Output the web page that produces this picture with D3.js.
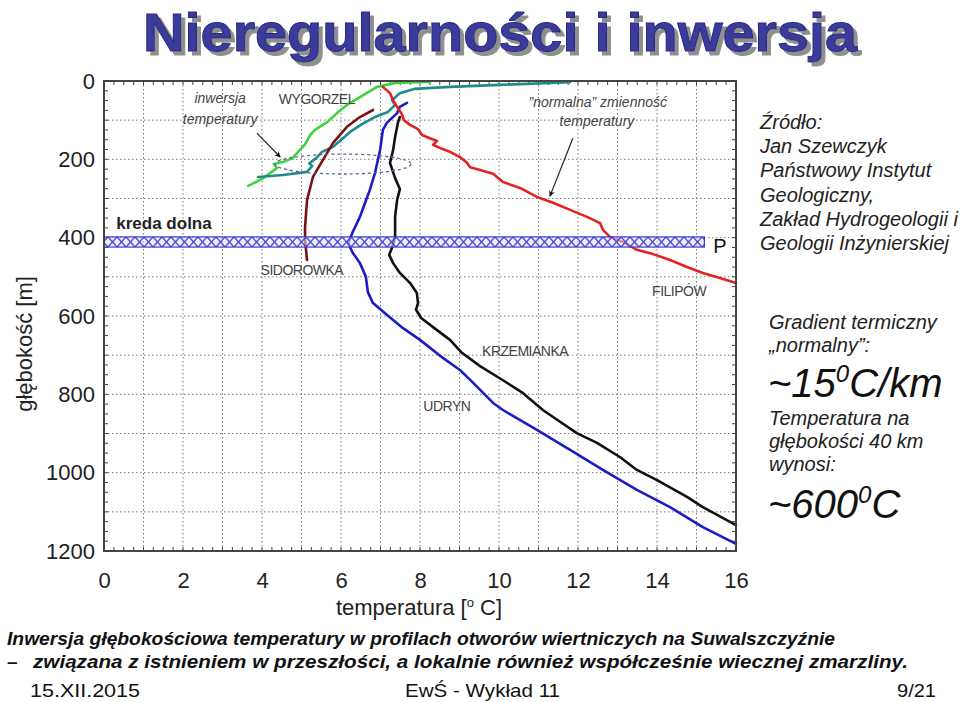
<!DOCTYPE html>
<html><head><meta charset="utf-8">
<script src="https://cdn.jsdelivr.net/npm/d3@7"></script>
<style>
html,body{margin:0;padding:0;background:#fff;}
svg{display:block;}
text{font-family:"Liberation Sans",Arial,sans-serif;}
</style></head>
<body>
<svg id="chart" width="960" height="702"></svg>
<script>
// ---- data (temperature [°C], depth [m]) ----
const xTicks = [0, 2, 4, 6, 8, 10, 12, 14, 16];
const yTicks = [0, 200, 400, 600, 800, 1000, 1200];

const wygorzel = [[3.65,268],[4.03,248],[4.38,222],[4.30,212],[4.53,207],[4.78,197],[4.85,188],[5.01,171],[5.10,160],[5.22,138],[5.34,125],[5.65,105],[5.90,82],[6.15,61],[6.48,41],[6.91,15],[7.37,5],[8.25,2]];
const wygorzelB = [[3.90,245],[4.53,240],[5.14,232],[5.27,217],[5.20,210],[5.37,197],[5.52,181],[5.80,168],[5.97,153],[6.23,130],[6.53,110],[6.86,92],[7.19,79],[7.37,61],[7.29,49],[7.49,31],[7.87,20],[8.76,15],[10.03,10],[11.80,3]];
const sidorowka = [[5.14,457],[5.09,406],[5.09,373],[5.14,304],[5.29,245],[5.54,202],[5.80,158],[6.15,117],[6.48,92],[6.81,74]];
const udryn = [[7.67,56],[7.49,66],[7.42,82],[7.16,107],[7.06,125],[6.99,176],[6.86,235],[6.73,278],[6.61,311],[6.48,347],[6.30,385],[6.18,414],[6.30,439],[6.48,465],[6.63,500],[6.68,539],[6.81,567],[7.16,597],[7.57,631],[8.00,661],[8.58,707],[9.01,738],[9.27,763],[9.85,822],[10.10,840],[10.96,891],[11.80,942],[12.63,993],[13.49,1044],[14.33,1088],[15.16,1139],[16.00,1182]];
const krzemianka = [[7.49,92],[7.44,107],[7.37,143],[7.32,176],[7.24,209],[7.37,248],[7.49,276],[7.42,304],[7.37,347],[7.37,398],[7.29,426],[7.22,444],[7.32,465],[7.49,490],[7.75,516],[7.92,541],[7.95,567],[7.90,584],[8.03,605],[8.43,636],[8.76,661],[9.06,694],[9.52,728],[10.10,764],[10.61,797],[11.11,840],[11.47,865],[11.97,899],[12.48,924],[13.06,960],[13.49,993],[14.00,1019],[14.76,1062],[15.16,1088],[16.00,1134]];
const filipow = [[7.06,15],[7.24,31],[7.32,49],[7.42,66],[7.54,84],[7.59,100],[7.75,112],[7.95,123],[8.05,138],[8.25,146],[8.43,153],[8.33,163],[8.51,171],[8.76,181],[9.01,194],[9.19,209],[9.27,220],[9.52,227],[9.85,237],[10.10,258],[10.53,273],[10.96,296],[11.37,311],[11.80,329],[12.23,347],[12.56,363],[12.63,380],[12.81,398],[13.14,411],[13.49,431],[13.90,442],[14.33,457],[14.76,475],[15.16,490],[15.59,503],[16.00,516]];

const seriesNames = ["wygorzel","wygorzelB","sidorowka","udryn","krzemianka","filipow"];
const seriesData = [wygorzel, wygorzelB, sidorowka, udryn, krzemianka, filipow];
const seriesColors = ["#3fd23f","#1f8c8c","#7a1414","#1c1cc4","#111111","#e52222"];

// layer "kreda dolna": [T0, T1, D0, D1]
const kredaBand = [0, 15.2, 398, 424];

// labels: [text, T, D]
const curveLabels = [["WYGORZEL",5.39,46],["SIDOROWKA",5.01,483],["FILIPÓW",14.56,536],["KRZEMIANKA",10.66,689],["UDRYN",8.68,830]];
const noteLabels = [["inwersja",2.94,43],["temperatury",2.94,97],["\u201Dnormalna\u201D zmienność",12.5,54],["temperatury",12.48,102]];
const arrows = [[3.87,133,4.46,194],[11.87,146,11.29,294]];
const inversionEllipse = [6.05, 212, 1.72, 25.5]; // center T, D, radius T, radius D

const titleText = "Nieregularności i inwersja";
const sourceLines = ["Źródło:","Jan Szewczyk","Państwowy Instytut","Geologiczny,","Zakład Hydrogeologii i","Geologii Inżynierskiej"];
const captionLine1 = "Inwersja głębokościowa temperatury w profilach otworów wiertniczych na Suwalszczyźnie";
const captionLine2 = "związana z istnieniem w przeszłości, a lokalnie również współcześnie wiecznej zmarzliny.";
const footer = ["15.XII.2015","EwŚ  - Wykład 11","9/21"];

// ---- drawing ----
const svg = d3.select("#chart");
const pL = 104, pR = 736, pT = 81, pB = 551;
const x = d3.scaleLinear().domain([0,16]).range([pL,pR]);
const y = d3.scaleLinear().domain([0,1200]).range([pT,pB]);

// defs
const defs = svg.append("defs");
const ph = y(kredaBand[3])-y(kredaBand[2]);
const pat = defs.append("pattern").attr("id","hatch").attr("patternUnits","userSpaceOnUse")
  .attr("width",9).attr("height",ph).attr("x",0).attr("y",y(kredaBand[2]));
pat.append("rect").attr("width",9).attr("height",ph).attr("fill","#e4e4fa").attr("opacity",0.55);
pat.append("path").attr("d",`M0,0 L9,${ph} M9,0 L0,${ph}`).attr("stroke","#3a3ad0").attr("stroke-width",1.3).attr("fill","none");
defs.append("marker").attr("id","arr").attr("viewBox","0 0 10 10").attr("refX",9).attr("refY",5)
  .attr("markerWidth",9).attr("markerHeight",6).attr("orient","auto").attr("markerUnits","userSpaceOnUse")
  .append("path").attr("d","M0,0 L10,5 L0,10 L3,5 Z").attr("fill","#111");
defs.append("filter").attr("id","tshadow").attr("x","-5%").attr("y","-20%").attr("width","110%").attr("height","150%")
  .append("feDropShadow").attr("dx",4).attr("dy",4).attr("stdDeviation",0.6).attr("flood-color","#8f8f8f").attr("flood-opacity",1);

// title with shadow
svg.append("text").attr("x",143).attr("y",51).attr("textLength",714).attr("lengthAdjust","spacingAndGlyphs")
  .attr("font-family","Lato, 'DejaVu Sans', sans-serif").attr("font-weight","900").attr("font-size",54)
  .attr("fill","#3b3b9c").attr("stroke","#2a2a80").attr("stroke-width",1).attr("filter","url(#tshadow)").text(titleText);

// grid
const g = svg.append("g");
d3.range(1,16).forEach(t=>g.append("line").attr("x1",x(t)).attr("x2",x(t)).attr("y1",pT).attr("y2",pB)
  .attr("stroke","#7a7a7a").attr("stroke-width",1).attr("stroke-dasharray","1.5,2.5"));
d3.range(100,1200,100).forEach(d=>g.append("line").attr("x1",pL).attr("x2",pR).attr("y1",y(d)).attr("y2",y(d))
  .attr("stroke","#7a7a7a").attr("stroke-width",1).attr("stroke-dasharray","1.5,2.5"));

// minor ticks (inward) on all sides
d3.range(0,16.01,0.25).forEach(t=>{
  g.append("line").attr("x1",x(t)).attr("x2",x(t)).attr("y1",pT).attr("y2",pT+4).attr("stroke","#444");
  g.append("line").attr("x1",x(t)).attr("x2",x(t)).attr("y1",pB).attr("y2",pB-4).attr("stroke","#444");
});
d3.range(0,1201,25).forEach(d=>{
  g.append("line").attr("x1",pL).attr("x2",pL+4).attr("y1",y(d)).attr("y2",y(d)).attr("stroke","#444");
  g.append("line").attr("x1",pR).attr("x2",pR-4).attr("y1",y(d)).attr("y2",y(d)).attr("stroke","#444");
});

// axes labels via d3 axes
const xAxis = svg.append("g").attr("transform",`translate(0,${pB})`)
  .call(d3.axisBottom(x).tickValues(xTicks).tickSize(0).tickPadding(21).tickFormat(d3.format("d")));
const yAxis = svg.append("g").attr("transform",`translate(${pL},0)`)
  .call(d3.axisLeft(y).tickValues(yTicks).tickSize(0).tickPadding(9).tickFormat(d3.format("d")));
[xAxis,yAxis].forEach(a=>{a.select(".domain").remove();
  a.selectAll("text").attr("font-family","'Liberation Sans',Arial,sans-serif").attr("font-size",22).attr("fill","#222");});

// curves
const line = d3.line().x(d=>x(d[0])).y(d=>y(d[1])).curve(d3.curveLinear);
seriesData.forEach((s,i)=>{
  svg.append("path").datum(s).attr("class",seriesNames[i]).attr("d",line).attr("fill","none")
    .attr("stroke",seriesColors[i]).attr("stroke-width",2.6).attr("stroke-linejoin","round").attr("stroke-linecap","round");
});

// band
svg.append("rect").attr("x",x(kredaBand[0])).attr("y",y(kredaBand[2])).attr("width",x(kredaBand[1])-x(kredaBand[0]))
  .attr("height",ph).attr("fill","url(#hatch)").attr("stroke","#3a3ad0").attr("stroke-width",1.2);

// frame
svg.append("rect").attr("x",pL).attr("y",pT).attr("width",pR-pL).attr("height",pB-pT)
  .attr("fill","none").attr("stroke","#444").attr("stroke-width",2);

// ellipse
svg.append("ellipse").attr("cx",x(inversionEllipse[0])).attr("cy",y(inversionEllipse[1]))
  .attr("rx",x(inversionEllipse[2])-x(0)).attr("ry",y(inversionEllipse[3])-y(0))
  .attr("fill","none").attr("stroke","#5a66a0").attr("stroke-width",1.3).attr("stroke-dasharray","3,3");

// arrows
arrows.forEach(a=>svg.append("line").attr("x1",x(a[0])).attr("y1",y(a[1])).attr("x2",x(a[2])).attr("y2",y(a[3]))
  .attr("stroke","#222").attr("stroke-width",1.2).attr("marker-end","url(#arr)"));

// labels
curveLabels.forEach(l=>svg.append("text").attr("x",x(l[1])).attr("y",y(l[2])).attr("text-anchor","middle")
  .attr("dominant-baseline","central").attr("font-size",14).attr("fill","#444").attr("letter-spacing",-0.5).text(l[0]));
noteLabels.forEach(l=>svg.append("text").attr("x",x(l[1])).attr("y",y(l[2])).attr("text-anchor","middle")
  .attr("dominant-baseline","central").attr("font-size",14).attr("font-style","italic").attr("fill","#444").text(l[0]));
svg.append("text").attr("x",164).attr("y",223).attr("text-anchor","middle").attr("dominant-baseline","central")
  .attr("font-size",17).attr("font-weight","bold").attr("fill","#222").text("kreda dolna");
svg.append("text").attr("x",720).attr("y",246).attr("text-anchor","middle").attr("dominant-baseline","central")
  .attr("font-size",20).attr("fill","#111").text("P");

// axis titles
svg.append("text").attr("transform","translate(32,344) rotate(-90)").attr("text-anchor","middle")
  .attr("font-size",22).attr("fill","#222").text("głębokość [m]");
const xt = svg.append("text").attr("x",419).attr("y",615).attr("text-anchor","middle").attr("font-size",22).attr("fill","#222");
xt.append("tspan").text("temperatura [");
xt.append("tspan").attr("font-size",13).attr("dy",-8).text("o");
xt.append("tspan").attr("dy",8).text(" C]");

// right text
sourceLines.forEach((t,i)=>svg.append("text").attr("x",760).attr("y",129+i*24.2).attr("font-size",20)
  .attr("font-style","italic").attr("fill","#222").text(t));
const rt = [["Gradient termiczny",329],["\u201Enormalny\u201D:",352],["Temperatura na",425],["głębokości 40 km",448],["wynosi:",471]];
rt.forEach(r=>svg.append("text").attr("x",769).attr("y",r[1]).attr("font-size",20).attr("font-style","italic").attr("fill","#222").text(r[0]));
const big1 = svg.append("text").attr("x",768).attr("y",397).attr("font-size",40).attr("font-style","italic").attr("fill","#111");
big1.append("tspan").text("~15");
big1.append("tspan").attr("font-size",24).attr("dy",-15).text("0");
big1.append("tspan").attr("dy",15).text("C/km");
const big2 = svg.append("text").attr("x",768).attr("y",518).attr("font-size",40).attr("font-style","italic").attr("fill","#111");
big2.append("tspan").text("~600");
big2.append("tspan").attr("font-size",24).attr("dy",-15).text("0");
big2.append("tspan").attr("dy",15).text("C");

// caption
const capFont = "'Liberation Sans Narrow','Liberation Sans',Arial,sans-serif";
svg.append("text").attr("x",7).attr("y",645).attr("font-family",capFont).attr("font-size",19).attr("font-weight","bold").attr("font-style","italic")
  .attr("fill","#111").attr("textLength",828).attr("lengthAdjust","spacingAndGlyphs").text(captionLine1);
svg.append("text").attr("x",7).attr("y",668).attr("font-family",capFont).attr("font-size",19).attr("font-weight","bold").attr("fill","#111").text("–");
svg.append("text").attr("x",33).attr("y",668).attr("font-family",capFont).attr("font-size",19).attr("font-weight","bold").attr("font-style","italic")
  .attr("fill","#111").attr("textLength",875).attr("lengthAdjust","spacingAndGlyphs").text(captionLine2);
[[30,110],[405,155],[897,39]].forEach((p,i)=>svg.append("text").attr("x",p[0]).attr("y",697).attr("font-family",capFont).attr("font-size",19)
  .attr("fill","#111").attr("textLength",p[1]).attr("lengthAdjust","spacingAndGlyphs").text(footer[i]));
</script>
</body></html>
